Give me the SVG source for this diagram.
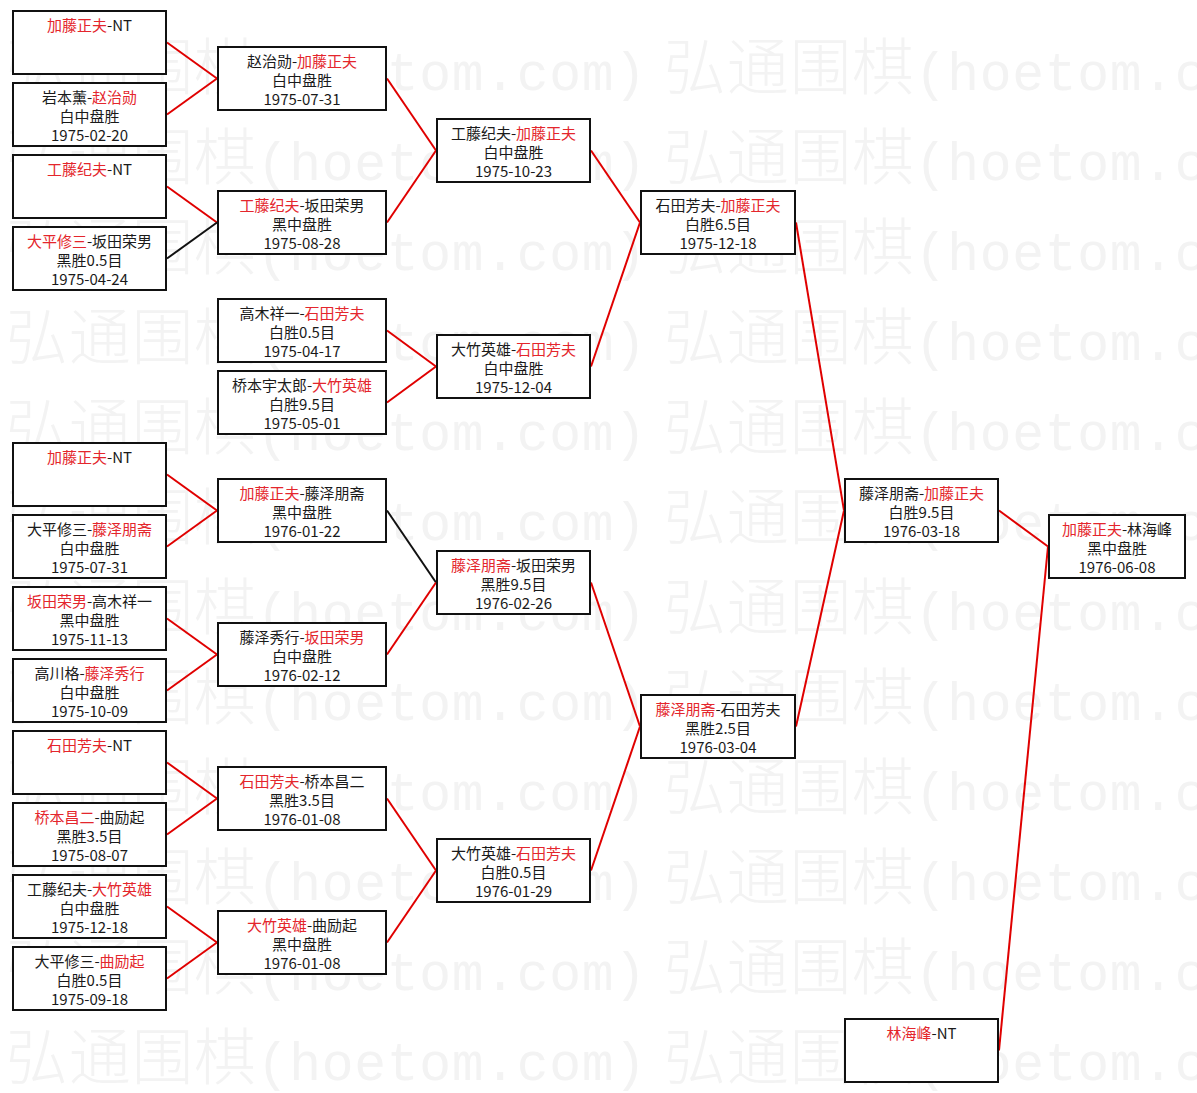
<svg xmlns="http://www.w3.org/2000/svg" xmlns:xlink="http://www.w3.org/1999/xlink" width="1197" height="1093" viewBox="0 0 1197 1093">
<style>
.bg{fill:#ffffff}
.wm{font-family:"Noto Sans CJK SC","Noto Sans CJK JP",sans-serif;font-size:62px;font-weight:200;fill:#f3f3f3}
.wma{font-family:"Liberation Mono",monospace;font-size:53px;font-weight:normal}
.box{fill:#ffffff;stroke:#111111;stroke-width:2}
.t{font-family:"Noto Sans CJK SC","Noto Sans CJK JP",sans-serif;font-size:15px;fill:#1a1a1a;text-anchor:middle}
.r{fill:#e4262c}
.cr{stroke:#e00000;stroke-width:2;fill:none}
.ck{stroke:#111111;stroke-width:2;fill:none}
</style>
<defs>
<text id="wmt" class="wm" x="0" y="0" textLength="640" lengthAdjust="spacing">弘通围棋<tspan class="wma">(hoetom.com)</tspan></text>
</defs>
<rect class="bg" x="0" y="0" width="1197" height="1093"/>
<g id="watermark">
<use xlink:href="#wmt" x="6" y="90"/><use xlink:href="#wmt" x="664" y="90"/>
<use xlink:href="#wmt" x="6" y="180"/><use xlink:href="#wmt" x="664" y="180"/>
<use xlink:href="#wmt" x="6" y="270"/><use xlink:href="#wmt" x="664" y="270"/>
<use xlink:href="#wmt" x="6" y="360"/><use xlink:href="#wmt" x="664" y="360"/>
<use xlink:href="#wmt" x="6" y="450"/><use xlink:href="#wmt" x="664" y="450"/>
<use xlink:href="#wmt" x="6" y="540"/><use xlink:href="#wmt" x="664" y="540"/>
<use xlink:href="#wmt" x="6" y="630"/><use xlink:href="#wmt" x="664" y="630"/>
<use xlink:href="#wmt" x="6" y="720"/><use xlink:href="#wmt" x="664" y="720"/>
<use xlink:href="#wmt" x="6" y="810"/><use xlink:href="#wmt" x="664" y="810"/>
<use xlink:href="#wmt" x="6" y="900"/><use xlink:href="#wmt" x="664" y="900"/>
<use xlink:href="#wmt" x="6" y="990"/><use xlink:href="#wmt" x="664" y="990"/>
<use xlink:href="#wmt" x="6" y="1080"/><use xlink:href="#wmt" x="664" y="1080"/>
</g>
<g id="connectors">
<path class="cr" d="M167,42.5L217,78.5"/>
<path class="cr" d="M167,114.5L217,78.5"/>
<path class="cr" d="M167,186.5L217,222.5"/>
<path class="ck" d="M167,258.5L217,222.5"/>
<path class="cr" d="M167,474.5L217,510.5"/>
<path class="cr" d="M167,546.5L217,510.5"/>
<path class="cr" d="M167,618.5L217,654.5"/>
<path class="cr" d="M167,690.5L217,654.5"/>
<path class="cr" d="M167,762.5L217,798.5"/>
<path class="cr" d="M167,834.5L217,798.5"/>
<path class="cr" d="M167,906.5L217,942.5"/>
<path class="cr" d="M167,978.5L217,942.5"/>
<path class="cr" d="M387,78.5L436,150.5"/>
<path class="cr" d="M387,222.5L436,150.5"/>
<path class="cr" d="M387,330.5L436,366.5"/>
<path class="cr" d="M387,402.5L436,366.5"/>
<path class="ck" d="M387,510.5L436,582.5"/>
<path class="cr" d="M387,654.5L436,582.5"/>
<path class="cr" d="M387,798.5L436,870.5"/>
<path class="cr" d="M387,942.5L436,870.5"/>
<path class="cr" d="M591,150.5L640,222.5"/>
<path class="cr" d="M591,366.5L640,222.5"/>
<path class="cr" d="M591,582.5L640,726.5"/>
<path class="cr" d="M591,870.5L640,726.5"/>
<path class="cr" d="M796,222.5L844,510.5"/>
<path class="cr" d="M796,726.5L844,510.5"/>
<path class="cr" d="M999,510.5L1048,546.5"/>
<path class="cr" d="M999,1050.5L1048,546.5"/>
</g>
<!-- Column 1 -->
<g id="n1-1"><rect class="box" x="13" y="11" width="153" height="63"/><text class="t" x="89.5" y="31"><tspan class="r">加藤正夫</tspan>-NT</text></g>
<g id="n1-2"><rect class="box" x="13" y="83" width="153" height="63"/><text class="t" x="89.5" y="103">岩本薰-<tspan class="r">赵治勋</tspan></text><text class="t" x="89.5" y="122">白中盘胜</text><text class="t" x="89.5" y="141">1975-02-20</text></g>
<g id="n1-3"><rect class="box" x="13" y="155" width="153" height="63"/><text class="t" x="89.5" y="175"><tspan class="r">工藤纪夫</tspan>-NT</text></g>
<g id="n1-4"><rect class="box" x="13" y="227" width="153" height="63"/><text class="t" x="89.5" y="247"><tspan class="r">大平修三</tspan>-坂田荣男</text><text class="t" x="89.5" y="266">黑胜0.5目</text><text class="t" x="89.5" y="285">1975-04-24</text></g>
<g id="n1-5"><rect class="box" x="13" y="443" width="153" height="63"/><text class="t" x="89.5" y="463"><tspan class="r">加藤正夫</tspan>-NT</text></g>
<g id="n1-6"><rect class="box" x="13" y="515" width="153" height="63"/><text class="t" x="89.5" y="535">大平修三-<tspan class="r">藤泽朋斋</tspan></text><text class="t" x="89.5" y="554">白中盘胜</text><text class="t" x="89.5" y="573">1975-07-31</text></g>
<g id="n1-7"><rect class="box" x="13" y="587" width="153" height="63"/><text class="t" x="89.5" y="607"><tspan class="r">坂田荣男</tspan>-高木祥一</text><text class="t" x="89.5" y="626">黑中盘胜</text><text class="t" x="89.5" y="645">1975-11-13</text></g>
<g id="n1-8"><rect class="box" x="13" y="659" width="153" height="63"/><text class="t" x="89.5" y="679">高川格-<tspan class="r">藤泽秀行</tspan></text><text class="t" x="89.5" y="698">白中盘胜</text><text class="t" x="89.5" y="717">1975-10-09</text></g>
<g id="n1-9"><rect class="box" x="13" y="731" width="153" height="63"/><text class="t" x="89.5" y="751"><tspan class="r">石田芳夫</tspan>-NT</text></g>
<g id="n1-10"><rect class="box" x="13" y="803" width="153" height="63"/><text class="t" x="89.5" y="823"><tspan class="r">桥本昌二</tspan>-曲励起</text><text class="t" x="89.5" y="842">黑胜3.5目</text><text class="t" x="89.5" y="861">1975-08-07</text></g>
<g id="n1-11"><rect class="box" x="13" y="875" width="153" height="63"/><text class="t" x="89.5" y="895">工藤纪夫-<tspan class="r">大竹英雄</tspan></text><text class="t" x="89.5" y="914">白中盘胜</text><text class="t" x="89.5" y="933">1975-12-18</text></g>
<g id="n1-12"><rect class="box" x="13" y="947" width="153" height="63"/><text class="t" x="89.5" y="967">大平修三-<tspan class="r">曲励起</tspan></text><text class="t" x="89.5" y="986">白胜0.5目</text><text class="t" x="89.5" y="1005">1975-09-18</text></g>
<!-- Column 2 -->
<g id="n2-1"><rect class="box" x="218" y="47" width="168" height="63"/><text class="t" x="302" y="67">赵治勋-<tspan class="r">加藤正夫</tspan></text><text class="t" x="302" y="86">白中盘胜</text><text class="t" x="302" y="105">1975-07-31</text></g>
<g id="n2-2"><rect class="box" x="218" y="191" width="168" height="63"/><text class="t" x="302" y="211"><tspan class="r">工藤纪夫</tspan>-坂田荣男</text><text class="t" x="302" y="230">黑中盘胜</text><text class="t" x="302" y="249">1975-08-28</text></g>
<g id="n2-3"><rect class="box" x="218" y="299" width="168" height="63"/><text class="t" x="302" y="319">高木祥一-<tspan class="r">石田芳夫</tspan></text><text class="t" x="302" y="338">白胜0.5目</text><text class="t" x="302" y="357">1975-04-17</text></g>
<g id="n2-4"><rect class="box" x="218" y="371" width="168" height="63"/><text class="t" x="302" y="391">桥本宇太郎-<tspan class="r">大竹英雄</tspan></text><text class="t" x="302" y="410">白胜9.5目</text><text class="t" x="302" y="429">1975-05-01</text></g>
<g id="n2-5"><rect class="box" x="218" y="479" width="168" height="63"/><text class="t" x="302" y="499"><tspan class="r">加藤正夫</tspan>-藤泽朋斋</text><text class="t" x="302" y="518">黑中盘胜</text><text class="t" x="302" y="537">1976-01-22</text></g>
<g id="n2-6"><rect class="box" x="218" y="623" width="168" height="63"/><text class="t" x="302" y="643">藤泽秀行-<tspan class="r">坂田荣男</tspan></text><text class="t" x="302" y="662">白中盘胜</text><text class="t" x="302" y="681">1976-02-12</text></g>
<g id="n2-7"><rect class="box" x="218" y="767" width="168" height="63"/><text class="t" x="302" y="787"><tspan class="r">石田芳夫</tspan>-桥本昌二</text><text class="t" x="302" y="806">黑胜3.5目</text><text class="t" x="302" y="825">1976-01-08</text></g>
<g id="n2-8"><rect class="box" x="218" y="911" width="168" height="63"/><text class="t" x="302" y="931"><tspan class="r">大竹英雄</tspan>-曲励起</text><text class="t" x="302" y="950">黑中盘胜</text><text class="t" x="302" y="969">1976-01-08</text></g>
<!-- Column 3 -->
<g id="n3-1"><rect class="box" x="437" y="119" width="153" height="63"/><text class="t" x="513.5" y="139">工藤纪夫-<tspan class="r">加藤正夫</tspan></text><text class="t" x="513.5" y="158">白中盘胜</text><text class="t" x="513.5" y="177">1975-10-23</text></g>
<g id="n3-2"><rect class="box" x="437" y="335" width="153" height="63"/><text class="t" x="513.5" y="355">大竹英雄-<tspan class="r">石田芳夫</tspan></text><text class="t" x="513.5" y="374">白中盘胜</text><text class="t" x="513.5" y="393">1975-12-04</text></g>
<g id="n3-3"><rect class="box" x="437" y="551" width="153" height="63"/><text class="t" x="513.5" y="571"><tspan class="r">藤泽朋斋</tspan>-坂田荣男</text><text class="t" x="513.5" y="590">黑胜9.5目</text><text class="t" x="513.5" y="609">1976-02-26</text></g>
<g id="n3-4"><rect class="box" x="437" y="839" width="153" height="63"/><text class="t" x="513.5" y="859">大竹英雄-<tspan class="r">石田芳夫</tspan></text><text class="t" x="513.5" y="878">白胜0.5目</text><text class="t" x="513.5" y="897">1976-01-29</text></g>
<!-- Column 4 -->
<g id="n4-1"><rect class="box" x="641" y="191" width="154" height="63"/><text class="t" x="718" y="211">石田芳夫-<tspan class="r">加藤正夫</tspan></text><text class="t" x="718" y="230">白胜6.5目</text><text class="t" x="718" y="249">1975-12-18</text></g>
<g id="n4-2"><rect class="box" x="641" y="695" width="154" height="63"/><text class="t" x="718" y="715"><tspan class="r">藤泽朋斋</tspan>-石田芳夫</text><text class="t" x="718" y="734">黑胜2.5目</text><text class="t" x="718" y="753">1976-03-04</text></g>
<!-- Column 5 -->
<g id="n5-1"><rect class="box" x="845" y="479" width="153" height="63"/><text class="t" x="921.5" y="499">藤泽朋斋-<tspan class="r">加藤正夫</tspan></text><text class="t" x="921.5" y="518">白胜9.5目</text><text class="t" x="921.5" y="537">1976-03-18</text></g>
<g id="n5-2"><rect class="box" x="845" y="1019" width="153" height="63"/><text class="t" x="921.5" y="1039"><tspan class="r">林海峰</tspan>-NT</text></g>
<!-- Column 6 -->
<g id="n6-1"><rect class="box" x="1049" y="515" width="136" height="63"/><text class="t" x="1117" y="535"><tspan class="r">加藤正夫</tspan>-林海峰</text><text class="t" x="1117" y="554">黑中盘胜</text><text class="t" x="1117" y="573">1976-06-08</text></g>
</svg>
